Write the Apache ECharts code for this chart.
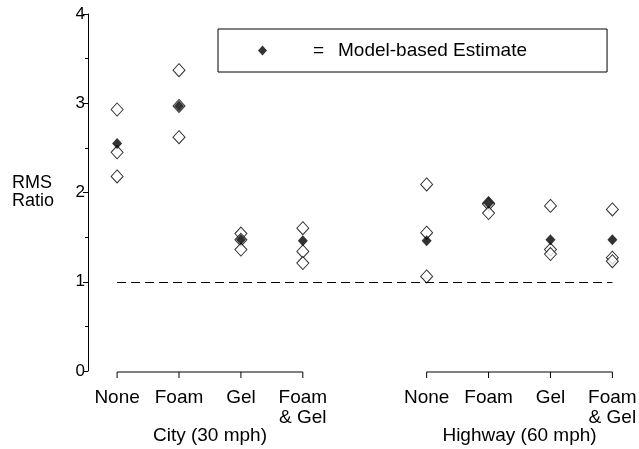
<!DOCTYPE html>
<html><head><meta charset="utf-8">
<script src="https://cdn.jsdelivr.net/npm/echarts@6/dist/echarts.min.js"></script>
<style>html,body{margin:0;padding:0;background:#fff}#c{width:639px;height:449px}</style>
</head><body><div id="c"></div>
<script>
// Category positions on the x axis (gap between conditions)
const categories = ['None', 'Foam', 'Gel', 'Foam\n& Gel'];
const groups = ['City (30 mph)', 'Highway (60 mph)'];
const groupStart = [0, 5];
// Observed RMS ratios (open diamonds), 3 per treatment
const cityObserved = [[2.93, 2.45, 2.18], [3.37, 2.97, 2.62], [1.54, 1.47, 1.36], [1.60, 1.34, 1.21]];
const highwayObserved = [[2.09, 1.55, 1.06], [1.88, 1.87, 1.77], [1.85, 1.36, 1.31], [1.81, 1.27, 1.23]];
// Model-based estimates (filled diamonds)
const cityModel = [2.55, 2.97, 1.47, 1.46];
const highwayModel = [1.46, 1.88, 1.47, 1.47];
const yTicks = [0, 1, 2, 3, 4];
const referenceLine = 1;

const FONT = 'Liberation Sans, Arial, sans-serif';
const observed = [];
const model = [];
[cityObserved, highwayObserved].forEach((g, gi) => {
  g.forEach((vals, ci) => vals.forEach(v => observed.push([groupStart[gi] + ci, v])));
});
[cityModel, highwayModel].forEach((g, gi) => {
  g.forEach((v, ci) => model.push([groupStart[gi] + ci, v]));
});

const chart = echarts.init(document.getElementById('c'));
chart.setOption({
  animation: false,
  backgroundColor: '#fff',
  grid: { left: 88, right: 0, top: 14, bottom: 78, containLabel: false },
  xAxis: { type: 'value', min: -0.47, max: 8.43, show: false },
  yAxis: {
    type: 'value', min: yTicks[0], max: yTicks[yTicks.length - 1], interval: 1,
    splitLine: { show: false },
    axisLine: { show: true, onZero: false, lineStyle: { color: '#000', width: 1 } },
    axisTick: { show: true, length: 5, lineStyle: { color: '#000' } },
    minorTick: { show: true, splitNumber: 2, length: 3, lineStyle: { color: '#000' } },
    axisLabel: { color: '#000', fontSize: 17, fontFamily: FONT, margin: 3 },
    name: 'RMS\nRatio', nameLocation: 'middle', nameRotate: 0, nameGap: 76,
    nameTextStyle: { color: '#000', fontSize: 18, fontFamily: FONT, align: 'left', lineHeight: 18 }
  },
  legend: {
    data: ['Model-based Estimate'],
    left: 218, top: 29,
    padding: [12, 80, 12, 40],
    borderColor: '#000', borderWidth: 1,
    itemWidth: 9, itemHeight: 10,
    formatter: function (name) { return '{e|=}{t|' + name + '}'; },
    textStyle: {
      color: '#000', fontSize: 19, fontFamily: FONT, padding: [0, 0, 0, 41],
      rich: {
        e: { width: 25, fontSize: 19, fontFamily: FONT, color: '#000' },
        t: { fontSize: 19, fontFamily: FONT, color: '#000' }
      }
    },
    selectedMode: false
  },
  series: [
    {
      name: 'Observed', type: 'scatter', data: observed,
      symbol: 'diamond', symbolSize: [12, 13],
      itemStyle: { color: '#fff', borderColor: '#000', borderWidth: 1 },
      z: 2,
      markLine: {
        silent: true, symbol: 'none', label: { show: false },
        lineStyle: { color: '#000', type: [9, 5], width: 1 },
        data: [[{ coord: [0, referenceLine] }, { coord: [8, referenceLine] }]]
      }
    },
    {
      name: 'Model-based Estimate', type: 'scatter', data: model,
      symbol: 'diamond', symbolSize: [10, 11],
      itemStyle: { color: '#000', borderColor: '#000', borderWidth: 0 },
      z: 3
    },
    {
      type: 'custom', clip: false, silent: true,
      data: groups.map((g, i) => [groupStart[i], groupStart[i] + categories.length - 1, i]),
      renderItem: function (params, api) {
        const s = api.value(0), e = api.value(1), gi = api.value(2);
        const p0 = api.coord([s, 0]), p1 = api.coord([e, 0]);
        const y = p0[1] + 1;
        const children = [{
          type: 'line', shape: { x1: p0[0], y1: y, x2: p1[0], y2: y },
          style: { stroke: '#000', lineWidth: 1 }
        }];
        for (let k = 0; k < categories.length; k++) {
          const pk = api.coord([s + k, 0]);
          children.push({ type: 'line', shape: { x1: pk[0], y1: y, x2: pk[0], y2: y + 6 },
            style: { stroke: '#000', lineWidth: 1 } });
          children.push({ type: 'text', x: pk[0], y: y + 16,
            style: { text: categories[k], fill: '#000', font: '19px ' + FONT,
              textAlign: 'center', textVerticalAlign: 'top', lineHeight: 20 } });
        }
        children.push({ type: 'text', x: (p0[0] + p1[0]) / 2, y: y + 54,
          style: { text: groups[gi], fill: '#000', font: '19px ' + FONT,
            textAlign: 'center', textVerticalAlign: 'top' } });
        return { type: 'group', children: children };
      }
    }
  ]
});
</script></body></html>
